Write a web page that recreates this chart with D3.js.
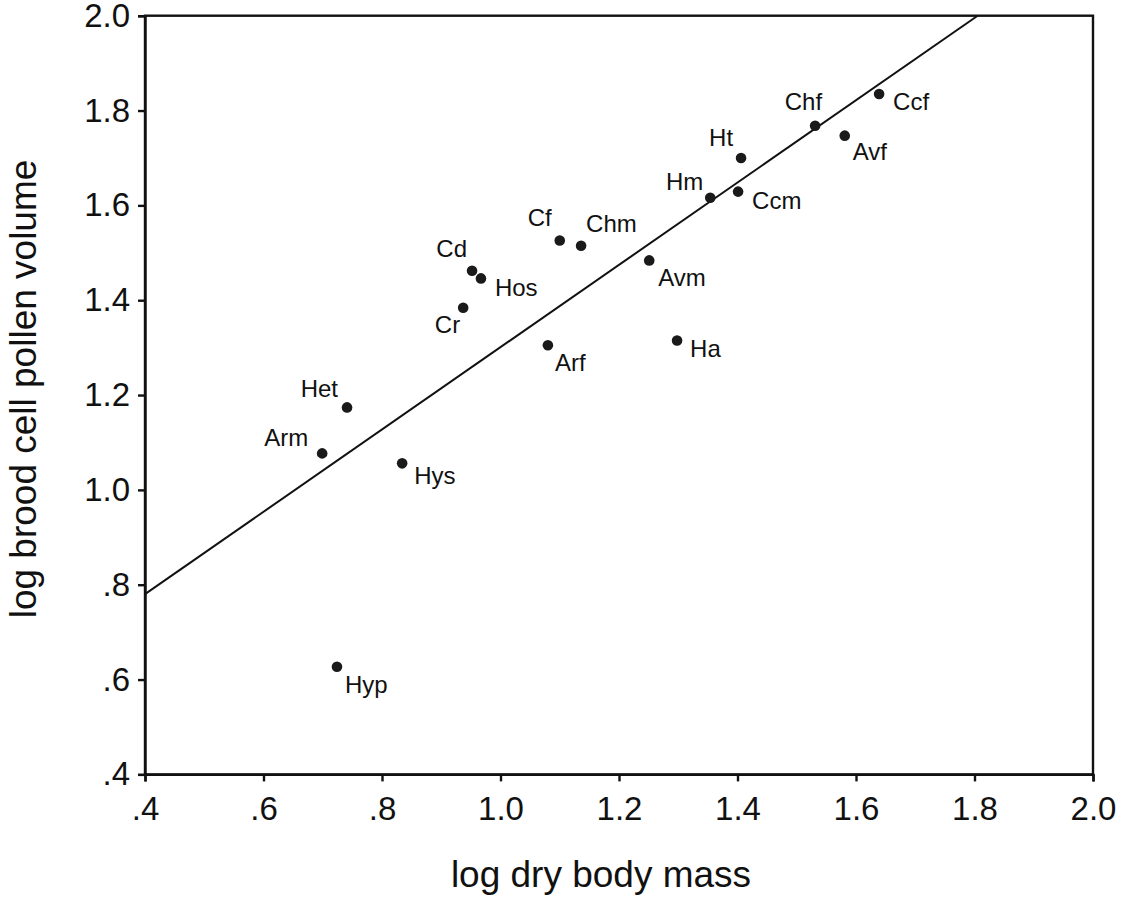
<!DOCTYPE html>
<html>
<head>
<meta charset="utf-8">
<script src="https://cdn.jsdelivr.net/npm/d3@7"></script>
<style>
  html, body { margin: 0; padding: 0; background: #fff; }
  svg { display: block; font-family: "Liberation Sans", Arial, Helvetica, sans-serif; }
</style>
</head>
<body>
<svg id="chart" width="1126" height="897"></svg>
<script>
// ---- data ----
const species = ["Ccf","Chf","Avf","Ht","Hm","Ccm","Cf","Chm","Avm","Cd","Hos","Cr","Arf","Ha","Het","Arm","Hys","Hyp"];
const logMass = [1.639,1.531,1.581,1.406,1.354,1.401,1.100,1.136,1.251,0.952,0.967,0.937,1.080,1.298,0.741,0.699,0.834,0.724];
const logPollen = [1.835,1.768,1.747,1.700,1.616,1.629,1.526,1.515,1.484,1.462,1.446,1.384,1.305,1.315,1.174,1.077,1.056,0.627];
const fitIntercept = 0.433;
const fitSlope = 0.868;
const xTicks = [0.4,0.6,0.8,1.0,1.2,1.4,1.6,1.8,2.0];
const xTickLabels = [".4",".6",".8","1.0","1.2","1.4","1.6","1.8","2.0"];
const yTicks = [0.4,0.6,0.8,1.0,1.2,1.4,1.6,1.8,2.0];
const yTickLabels = [".4",".6",".8","1.0","1.2","1.4","1.6","1.8","2.0"];
const xTitle = "log dry body mass";
const yTitle = "log brood cell pollen volume";

// ---- label placement (styling, not data) ----
const labelPlace = {
  Ccf:[14,16,"start"], Chf:[7,-16,"end"], Avf:[8,24,"start"], Ht:[-8,-12,"end"],
  Hm:[-7,-8,"end"], Ccm:[14,17,"start"], Cf:[-8,-14,"end"], Chm:[5,-14,"start"],
  Avm:[9,26,"start"], Cd:[-5,-14,"end"], Hos:[14,18,"start"], Cr:[-3,25,"end"],
  Arf:[7,26,"start"], Ha:[13,16,"start"], Het:[-9,-10,"end"], Arm:[-14,-7,"end"],
  Hys:[12,21,"start"], Hyp:[8,26,"start"]
};

const svg = d3.select("#chart");
const L = 145, R = 1093, T = 15.7, B = 774.4;
const x = d3.scaleLinear().domain([0.4, 2.0]).range([L, R]);
const y = d3.scaleLinear().domain([0.4, 2.0]).range([B, T]);
const ink = "#111";

// frame
svg.append("rect").attr("x", L).attr("y", T).attr("width", R - L).attr("height", B - T)
  .attr("fill", "none").attr("stroke", ink).attr("stroke-width", 2.4);

// axes
const xAxis = d3.axisBottom(x).tickValues(xTicks).tickSize(7).tickPadding(15)
  .tickFormat((d, i) => xTickLabels[i]);
const yAxis = d3.axisLeft(y).tickValues(yTicks).tickSize(7).tickPadding(8)
  .tickFormat((d, i) => yTickLabels[i]);

const gx = svg.append("g").attr("transform", `translate(0,${B})`).call(xAxis);
const gy = svg.append("g").attr("transform", `translate(${L},0)`).call(yAxis);
[gx, gy].forEach(g => {
  g.select(".domain").attr("stroke", ink).attr("stroke-width", 2.4);
  g.selectAll(".tick line").attr("stroke", ink).attr("stroke-width", 2.4);
  g.selectAll(".tick text").attr("fill", ink).style("font-size", "33px")
    .style("font-family", "'Liberation Sans', Arial, sans-serif");
});

// regression line
const xEnd = (2.0 - fitIntercept) / fitSlope;
svg.append("line")
  .attr("x1", x(0.4)).attr("y1", y(fitIntercept + fitSlope * 0.4))
  .attr("x2", x(xEnd)).attr("y2", y(2.0))
  .attr("stroke", ink).attr("stroke-width", 2);

// points
const pts = species.map((s, i) => ({ s, mx: logMass[i], py: logPollen[i] }));
svg.append("g").selectAll("circle").data(pts).join("circle")
  .attr("cx", d => x(d.mx)).attr("cy", d => y(d.py)).attr("r", 5.3)
  .attr("fill", "#1a1a1a");

svg.append("g").selectAll("text").data(pts).join("text")
  .attr("x", d => x(d.mx) + labelPlace[d.s][0])
  .attr("y", d => y(d.py) + labelPlace[d.s][1])
  .attr("text-anchor", d => labelPlace[d.s][2])
  .attr("fill", ink).style("font-size", "24px")
  .text(d => d.s);

// titles
svg.append("text").attr("x", 601).attr("y", 887).attr("text-anchor", "middle")
  .attr("fill", ink).style("font-size", "37px").text(xTitle);
svg.append("text").attr("transform", "translate(36,389) rotate(-90)")
  .attr("text-anchor", "middle").attr("fill", ink).style("font-size", "37px").text(yTitle);
</script>
</body>
</html>
